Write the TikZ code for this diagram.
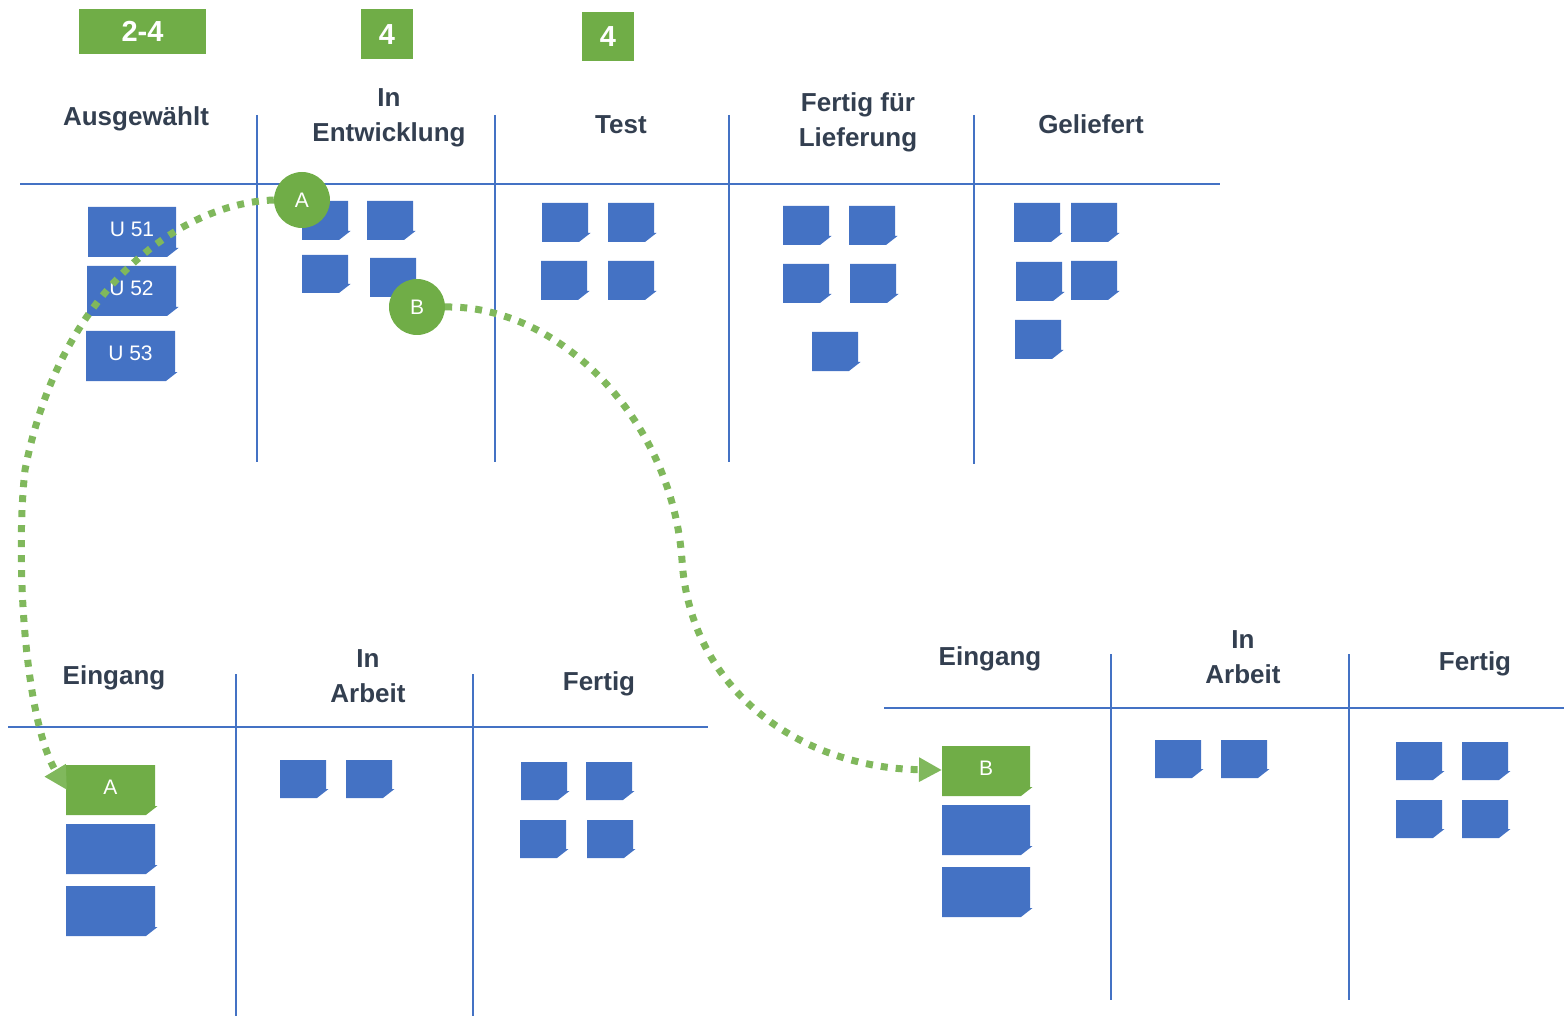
\documentclass[tikz,border=0pt]{standalone}
\usepackage{fontspec}
\setmainfont{Liberation Sans}
\usetikzlibrary{arrows.meta}
\definecolor{blu}{HTML}{4472C4}
\definecolor{grn}{HTML}{70AD47}
\definecolor{lgrn}{HTML}{80B85C}
\definecolor{hdr}{HTML}{333F50}
\newcommand\stk[7]{%
  \fill[#6] (#2,#3) -- (#4,#3) -- (#4,#5-9) -- (#4+2.5,#5-9) -- (#4-9,#5) -- (#2,#5) -- cycle;
  \node[stxt] (#1) at ({(#2+#4)/2},{(#3+#5)/2}) {#7};}
\begin{document}
\begin{tikzpicture}[x=1pt,y=-1pt,
  hdrtxt/.style={text=hdr,font=\fontsize{26}{35}\selectfont\bfseries,align=center,inner sep=0pt,yshift=-3pt},
  stxt/.style={text=white,font=\fontsize{21}{24}\selectfont,inner sep=0pt,yshift=3pt},
  wip/.style={fill=grn,text=white,font=\fontsize{29}{30}\selectfont\bfseries,inner sep=0pt,text depth=0pt,text height=21pt,yshift=-1pt},
  board/.style={draw=blu,line width=1.3pt},
  marker/.style={circle,fill=grn,text=white,font=\fontsize{21}{24}\selectfont,minimum size=56pt,inner sep=0pt},
  flow/.style={draw=lgrn,line width=7pt,dash pattern=on 7pt off 8pt,-{Triangle[length=23pt,width=23pt]}}]
\useasboundingbox (0,0) rectangle (1564,1016);
% WIP limits
\node[wip,minimum width=127pt,minimum height=45pt] (w1) at (142.5,30.5) {2-4};
\node[wip,minimum width=52pt,minimum height=50pt] (w2) at (387,33) {4};
\node[wip,minimum width=52pt,minimum height=49pt] (w3) at (608,35.5) {4};
% top board lines
\draw[board] (20,184) -- (1220,184);
\draw[board] (257,115) -- (257,462);
\draw[board] (495,115) -- (495,462);
\draw[board] (729,115) -- (729,462);
\draw[board] (974,115) -- (974,464);
% top headers
\node[hdrtxt] (h1) at (136,116) {Ausgewählt};
\node[hdrtxt] (h2) at (389,115) {In\\Entwicklung};
\node[hdrtxt] (h3) at (621,122) {Test};
\node[hdrtxt] (h4) at (858,119) {Fertig für\\Lieferung};
\node[hdrtxt] (h5) at (1091,121) {Geliefert};
% top stickies
\stk{u51}{88}{207}{176}{257}{blu}{U 51}
\stk{u52}{87}{266}{176}{316}{blu}{U 52}
\stk{u53}{86}{331}{175}{381}{blu}{U 53}
\stk{e1}{302}{201}{348}{240}{blu}{}
\stk{e2}{367}{201}{413}{240}{blu}{}
\stk{e3}{302}{255}{348}{293}{blu}{}
\stk{e4}{370}{258}{416}{297}{blu}{}
\stk{t1}{542}{203}{588}{242}{blu}{}
\stk{t2}{608}{203}{654}{242}{blu}{}
\stk{t3}{541}{261}{587}{300}{blu}{}
\stk{t4}{608}{261}{654}{300}{blu}{}
\stk{f1}{783}{206}{829}{245}{blu}{}
\stk{f2}{849}{206}{895}{245}{blu}{}
\stk{f3}{783}{264}{829}{303}{blu}{}
\stk{f4}{850}{264}{896}{303}{blu}{}
\stk{f5}{812}{332}{858}{371}{blu}{}
\stk{g1}{1014}{203}{1060}{242}{blu}{}
\stk{g2}{1071}{203}{1117}{242}{blu}{}
\stk{g3}{1016}{262}{1062}{301}{blu}{}
\stk{g4}{1071}{261}{1117}{300}{blu}{}
\stk{g5}{1015}{320}{1061}{359}{blu}{}
% bottom-left board
\draw[board] (8,727) -- (708,727);
\draw[board] (236,674) -- (236,1016);
\draw[board] (473,674) -- (473,1016);
\node[hdrtxt] (l1) at (114,675) {Eingang};
\node[hdrtxt] (l2) at (368,673) {In\\Arbeit};
\node[hdrtxt] (l3) at (599,681) {Fertig};
\stk{sa}{66}{765}{155}{815}{grn}{A}
\stk{la2}{66}{824}{155}{874}{blu}{}
\stk{la3}{66}{886}{155}{936}{blu}{}
\stk{lb1}{280}{760}{326}{798}{blu}{}
\stk{lb2}{346}{760}{392}{798}{blu}{}
\stk{lc1}{521}{762}{567}{800}{blu}{}
\stk{lc2}{586}{762}{632}{800}{blu}{}
\stk{lc3}{520}{820}{566}{858}{blu}{}
\stk{lc4}{587}{820}{633}{858}{blu}{}
% bottom-right board
\draw[board] (884,708) -- (1564,708);
\draw[board] (1111,654) -- (1111,1000);
\draw[board] (1349,654) -- (1349,1000);
\node[hdrtxt] (r1) at (990,656) {Eingang};
\node[hdrtxt] (r2) at (1243,654) {In\\Arbeit};
\node[hdrtxt] (r3) at (1475,661) {Fertig};
\stk{sb}{942}{746}{1030}{796}{grn}{B}
\stk{ra2}{942}{805}{1030}{855}{blu}{}
\stk{ra3}{942}{867}{1030}{917}{blu}{}
\stk{rb1}{1155}{740}{1201}{778}{blu}{}
\stk{rb2}{1221}{740}{1267}{778}{blu}{}
\stk{rc1}{1396}{742}{1442}{780}{blu}{}
\stk{rc2}{1462}{742}{1508}{780}{blu}{}
\stk{rc3}{1396}{800}{1442}{838}{blu}{}
\stk{rc4}{1462}{800}{1508}{838}{blu}{}
% markers
\node[marker] (A) at (302,200) {A};
\node[marker] (B) at (417,307) {B};
\coordinate (aend) at (67,790);
\coordinate (bend) at (942,770);
% flows
\draw[flow] (A.west) .. controls (180,203) and (60,290) .. (25,470)
   .. controls (15,560) and (25,720) .. (aend);
\draw[flow] (B.east) .. controls (560,305) and (672,420) .. (682,560)
   .. controls (690,690) and (800,768) .. (bend);
\end{tikzpicture}
\end{document}
